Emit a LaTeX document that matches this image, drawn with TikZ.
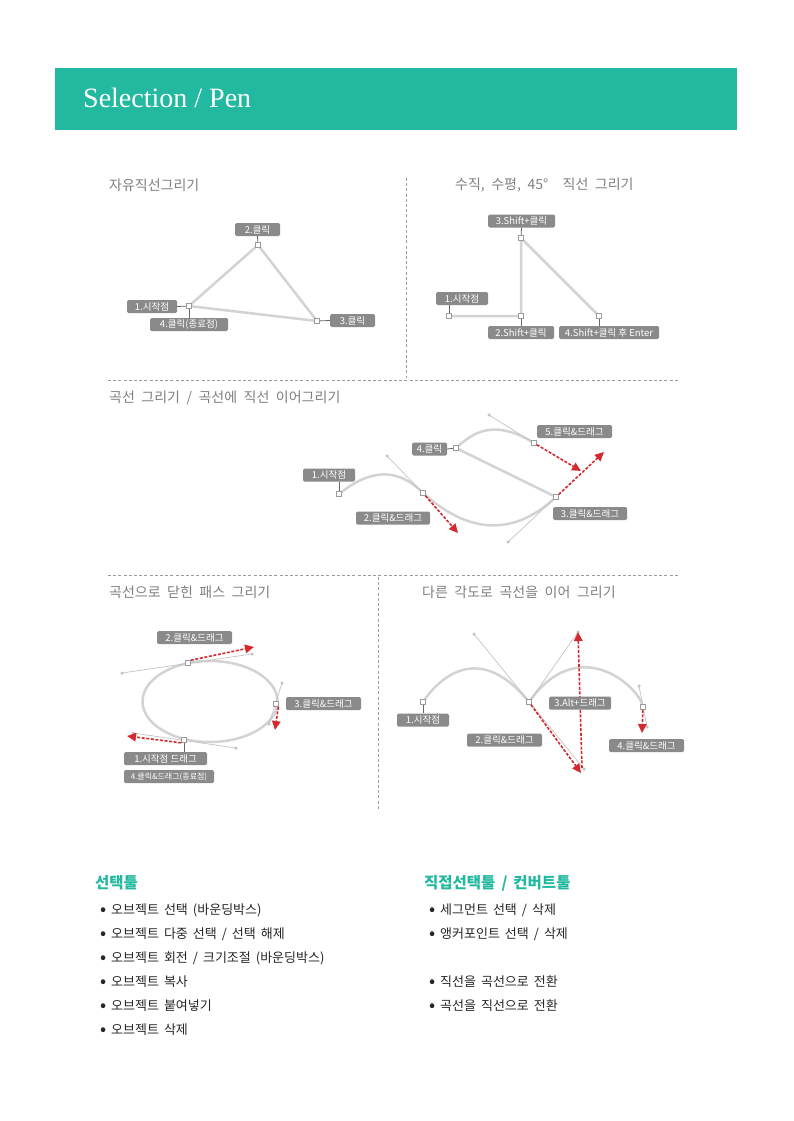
\documentclass[tikz,border=0pt]{standalone}
\usepackage{fontspec}
\setmainfont{Liberation Serif}
\newfontfamily\kr{Noto Sans CJK KR}
\usetikzlibrary{arrows.meta}
\definecolor{teal1}{HTML}{22B9A0}
\definecolor{ttl}{HTML}{808080}
\definecolor{lblg}{HTML}{8A8A8A}
\definecolor{crv}{HTML}{D3D3D3}
\definecolor{hnd}{HTML}{C4C4C4}
\definecolor{ancd}{HTML}{9C9C9C}
\definecolor{redA}{HTML}{D42A2F}
\definecolor{sep}{HTML}{9A9A9A}
\definecolor{txt}{HTML}{262626}
\definecolor{tickc}{HTML}{666666}
\newcommand\titlefont{\kr\fontsize{14}{16}\selectfont\spaceskip 6.5pt\relax}
\newcommand\hdfont{\kr\bfseries\fontsize{15.5}{18}\selectfont\spaceskip 6pt\relax}
\newcommand\itemfont{\kr\fontsize{13}{15}\selectfont\spaceskip 5pt\relax}
\newcommand\bul{\makebox[16pt][c]{\fontsize{18}{18}\selectfont\raisebox{-0.05em}{•}}}
\tikzset{
  lbl/.style={fill=lblg, rounded corners=1.5pt, text=white, font=\kr\fontsize{9.5}{10}\selectfont, inner sep=0pt, minimum height=13pt},
  anc/.style={draw=ancd, fill=white, inner sep=0pt, minimum size=5pt, line width=0.6pt},
  crvl/.style={draw=crv, line width=2.5pt, line join=round},
  hndl/.style={draw=hnd, line width=0.7pt},
  hdot/.style={circle, fill=hnd, inner sep=0pt, minimum size=3.5pt},
  redarr/.style={draw=redA, line width=1.6pt, dash pattern=on 3pt off 1.6pt, -{Triangle[length=9pt,width=8.5pt]}},
  tick/.style={draw=tickc, line width=0.8pt},
  sepl/.style={draw=sep, line width=0.9pt, dash pattern=on 3pt off 2.2pt},
  ptitle/.style={font=\titlefont, text=ttl, inner sep=0pt, anchor=west},
  hd/.style={font=\hdfont, text=teal1, inner sep=0pt, anchor=west},
  item/.style={font=\itemfont, text=txt, inner sep=0pt, anchor=west}
}
\begin{document}
\begin{tikzpicture}[x=1pt,y=-1pt]
\useasboundingbox (0,0) rectangle (793,1121);
\fill[white] (0,0) rectangle (793,1121);
% header
\fill[teal1] (55,68) rectangle (737,130);
\node[anchor=base west, inner sep=0pt, text=white, font=\fontsize{28}{32}\selectfont] (head) at (83,108) {Selection / Pen};
% separators
\coordinate (s1a) at (406,178); \coordinate (s1b) at (406,378);
\coordinate (s2a) at (108,380); \coordinate (s2b) at (680,380);
\coordinate (s3a) at (108,575); \coordinate (s3b) at (680,575);
\coordinate (s4a) at (378,577); \coordinate (s4b) at (378,810);
\draw[sepl] (s1a) -- (s1b);
\draw[sepl] (s2a) -- (s2b);
\draw[sepl] (s3a) -- (s3b);
\draw[sepl] (s4a) -- (s4b);
% titles
\node[ptitle] (t1) at (109,185) {자유직선그리기};
\node[ptitle] (t2) at (455,185) {수직, 수평, 45°\hspace{8pt} 직선 그리기};
\node[ptitle] (t3) at (109,398) {곡선 그리기 / 곡선에 직선 이어그리기};
\node[ptitle] (t4) at (109,592) {곡선으로 닫힌 패스 그리기};
\node[ptitle] (t5) at (422,592) {다른 각도로 곡선을 이어 그리기};

% ---------- panel 1 ----------
\coordinate (tA) at (189,306); \coordinate (tB) at (258,245); \coordinate (tC) at (317,321);
\draw[crvl] (tA) -- (tB) -- (tC) -- cycle;
\node[lbl, minimum width=45] (tl2) at (257.5,229.5) {2.클릭};
\node[lbl, minimum width=50] (tl1) at (152,306.5) {1.시작점};
\node[lbl, minimum width=78] (tl4) at (189,324.5) {4.클릭(종료점)};
\node[lbl, minimum width=45] (tl3) at (352.5,320.5) {3.클릭};
\draw[tick] (tl2.south) -- (tB);
\draw[tick] (tl1.east) -- (tA);
\draw[tick] (tl4.north) -- (tA);
\draw[tick] (tl3.west) -- (tC);
\node[anc] (atA) at (tA) {}; \node[anc] (atB) at (tB) {}; \node[anc] (atC) at (tC) {};

% ---------- panel 2 ----------
\coordinate (rA) at (449,316); \coordinate (rB) at (521,316); \coordinate (rC) at (521,238); \coordinate (rD) at (599,316);
\draw[crvl] (rA) -- (rB) -- (rC) -- (rD);
\node[lbl, minimum width=67] (rl3) at (521.5,221) {3.Shift+클릭};
\node[lbl, minimum width=52] (rl1) at (462,298.5) {1.시작점};
\node[lbl, minimum width=66] (rl2) at (521,332.5) {2.Shift+클릭};
\node[lbl, minimum width=100] (rl4) at (609,332.5) {4.Shift+클릭 후 Enter};
\draw[tick] (rl3.south) -- (rC);
\draw[tick] (rA) -- (rl1.south -| rA);
\draw[tick] (rl2.north) -- (rB);
\draw[tick] (rD) -- (rl4.north -| rD);
\node[anc] (arA) at (rA) {}; \node[anc] (arB) at (rB) {}; \node[anc] (arC) at (rC) {}; \node[anc] (arD) at (rD) {};

% ---------- panel 3 ----------
\coordinate (mA) at (339,494); \coordinate (mB) at (423,493); \coordinate (mC) at (556,497);
\coordinate (mD) at (456,448); \coordinate (mE) at (534,443);
\coordinate (mBh1) at (387,456); \coordinate (mBh2) at (462,528);
\coordinate (mCh1) at (508,542); \coordinate (mEh1) at (489,415);
\coordinate (mBt) at (458,533); \coordinate (mCt) at (604,452); \coordinate (mEt) at (581,471);
\draw[crvl] (mA) .. controls (352,484) and (mBh1) .. (mB) .. controls (mBh2) and (mCh1) .. (mC) -- (mD) .. controls (468,438) and (mEh1) .. (mE);
\draw[hndl] (mBh1) -- (mB);
\draw[hndl] (mCh1) -- (mC);
\draw[hndl] (mEh1) -- (mE);
\node[hdot] (dm1) at (mBh1) {}; \node[hdot] (dm2) at (mCh1) {}; \node[hdot] (dm3) at (mEh1) {};
\node[lbl, minimum width=52] (ml1) at (329,475) {1.시작점};
\node[lbl, minimum width=74] (ml2) at (393,518) {2.클릭\&드래그};
\node[lbl, minimum width=74] (ml3) at (590,513.5) {3.클릭\&드래그};
\node[lbl, minimum width=35] (ml4) at (429.5,449) {4.클릭};
\node[lbl, minimum width=75] (ml5) at (574.5,431.5) {5.클릭\&드래그};
\draw[tick] (mA) -- (ml1.south -| mA);
\draw[tick] (ml4.east) -- (mD);
\node[anc] (amA) at (mA) {}; \node[anc] (amB) at (mB) {}; \node[anc] (amC) at (mC) {};
\node[anc] (amD) at (mD) {}; \node[anc] (amE) at (mE) {};
\draw[redarr] (amB) -- (mBt);
\draw[redarr] (amC) -- (mCt);
\draw[redarr] (amE) -- (mEt);

% ---------- panel 4 ----------
\coordinate (bO) at (210,701.5);
\coordinate (bA) at (184,740); \coordinate (bB) at (188,663); \coordinate (bC) at (275.5,704);
\coordinate (bBh1) at (122,673); \coordinate (bBh2) at (252,654);
\coordinate (bCh1) at (282,683); \coordinate (bCh2) at (269,724);
\coordinate (bAh1) at (133,733); \coordinate (bAh2) at (236,748);
\coordinate (bBt) at (254,647); \coordinate (bCt) at (275,730); \coordinate (bAt) at (127,736);
\draw[crvl] (bO) ellipse [x radius=67.5, y radius=40.5];
\draw[hndl] (bBh1) -- (bBh2);
\draw[hndl] (bCh1) -- (bCh2);
\draw[hndl] (bAh1) -- (bAh2);
\foreach \p in {bBh1,bBh2,bCh1,bCh2,bAh1,bAh2} {\node[hdot] (d\p) at (\p) {};}
\node[lbl, minimum width=75] (bl2) at (194.5,637.5) {2.클릭\&드래그};
\node[lbl, minimum width=75] (bl3) at (323.5,703.5) {3.클릭\&드래그};
\node[lbl, minimum width=83] (bl1) at (165.5,758.5) {1.시작점 드래그};
\node[lbl, minimum width=90, font=\kr\fontsize{8}{9}\selectfont] (bl4) at (169,776.5) {4.클릭\&드래그(종료점)};
\draw[tick] (bA) -- (bl1.north -| bA);
\node[anc] (abA) at (bA) {}; \node[anc] (abB) at (bB) {}; \node[anc] (abC) at (bC) {};
\draw[redarr] (abB.north east) -- (bBt);
\draw[redarr] (abC.south east) -- (bCt);
\draw[redarr] (abA.south west) -- (bAt);

% ---------- panel 5 ----------
\coordinate (eA) at (423,702); \coordinate (eB) at (529,702); \coordinate (eC) at (643,707);
\coordinate (eBh1) at (474,634); \coordinate (eBh2) at (584,769); \coordinate (eBh3) at (578,632);
\coordinate (eCh1) at (639,686); \coordinate (eCh2) at (647,727);
\coordinate (eBt) at (581,773); \coordinate (eVs) at (582,768); \coordinate (eVt) at (578,632);
\coordinate (eCt) at (642,733);
\draw[crvl] (eA) .. controls (432,688) and (eBh1) .. (eB) .. controls (eBh3) and (eCh1) .. (eC);
\draw[hndl] (eBh1) -- (eBh2);
\draw[hndl] (eB) -- (eBh3);
\draw[hndl] (eCh1) -- (eCh2);
\foreach \p in {eBh1,eBh2,eBh3,eCh1,eCh2} {\node[hdot] (d\p) at (\p) {};}
\node[lbl, minimum width=52] (el1) at (423,720) {1.시작점};
\draw[tick] (eA) -- (el1.north -| eA);
\node[anc] (aeA) at (eA) {}; \node[anc] (aeB) at (eB) {}; \node[anc] (aeC) at (eC) {};
\draw[redarr] (aeB) -- (eBt);
\draw[redarr] (eVs) -- (eVt);
\draw[redarr] (aeC) -- (eCt);
\node[lbl, minimum width=75] (el2) at (504.5,740) {2.클릭\&드래그};
\node[lbl, minimum width=62] (el3) at (580,703) {3.Alt+드래그};
\node[lbl, minimum width=75] (el4) at (646.5,745.5) {4.클릭\&드래그};

% ---------- bottom text ----------
\node[hd] (h1) at (95,883) {선택툴};
\node[item] (i1) at (95,910) {\bul 오브젝트 선택 (바운딩박스)};
\node[item] (i2) at (95,934) {\bul 오브젝트 다중 선택 / 선택 해제};
\node[item] (i3) at (95,958) {\bul 오브젝트 회전 / 크기조절 (바운딩박스)};
\node[item] (i4) at (95,982) {\bul 오브젝트 복사};
\node[item] (i5) at (95,1006) {\bul 오브젝트 붙여넣기};
\node[item] (i6) at (95,1030) {\bul 오브젝트 삭제};
\node[hd] (h2) at (424,883) {직접선택툴 / 컨버트툴};
\node[item] (j1) at (424,910) {\bul 세그먼트 선택 / 삭제};
\node[item] (j2) at (424,934) {\bul 앵커포인트 선택 / 삭제};
\node[item] (j3) at (424,982) {\bul 직선을 곡선으로 전환};
\node[item] (j4) at (424,1006) {\bul 곡선을 직선으로 전환};
\end{tikzpicture}
\end{document}
